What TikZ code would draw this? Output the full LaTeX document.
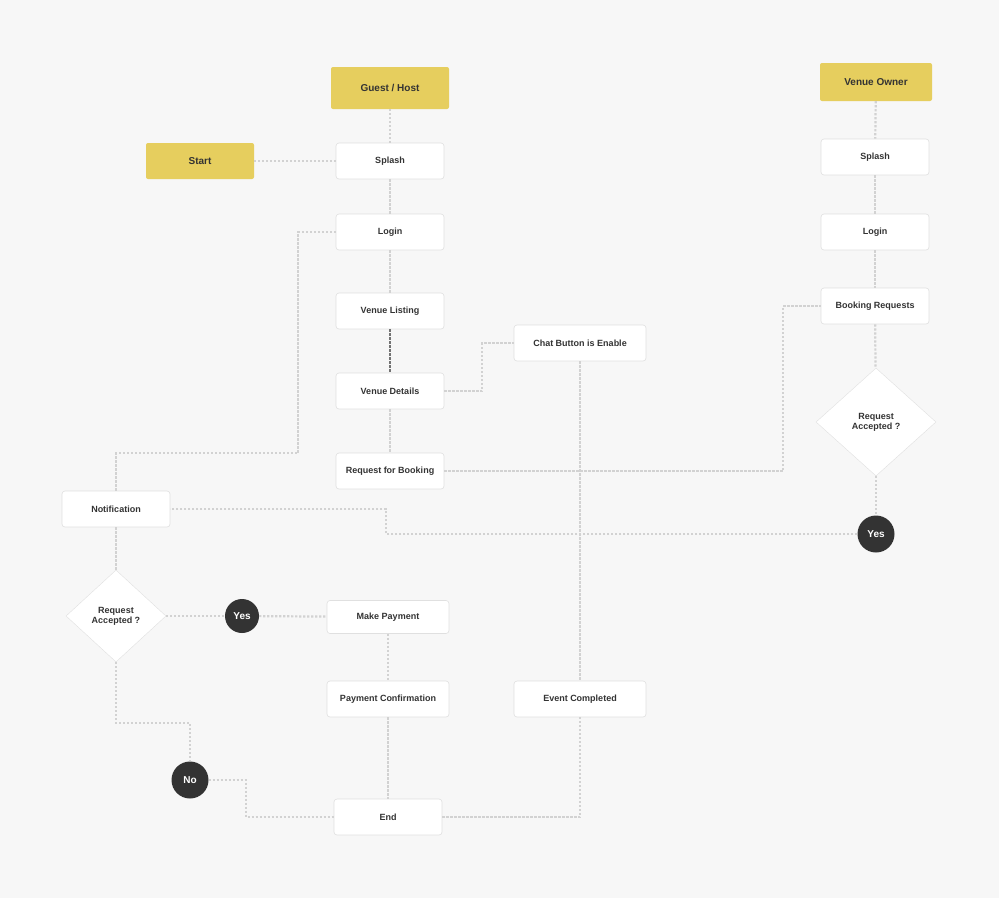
\documentclass[tikz,border=0pt]{standalone}
\usepackage{fontspec}
\setmainfont{Liberation Sans}
\usetikzlibrary{shapes.geometric}
\definecolor{bg}{HTML}{F7F7F7}
\definecolor{yel}{HTML}{E6CE5E}
\definecolor{ln}{HTML}{D2D2D2}
\definecolor{dk}{HTML}{333333}
\tikzset{
 box/.style={draw=black!12,fill=white,rounded corners=3pt,minimum width=108pt,minimum height=36pt,font=\bfseries\fontsize{9}{11}\selectfont,text=dk,line width=0.6pt},
 ybox/.style={fill=yel,rounded corners=2pt,minimum width=108pt,minimum height=36pt,font=\bfseries\fontsize{10}{12}\selectfont,text=dk},
 dia/.style={diamond,draw=black!12,fill=white,aspect=1.1,font=\bfseries\fontsize{9}{10}\selectfont,text=dk,align=center,inner sep=0pt},
 circ/.style={circle,fill=dk,minimum size=37pt,inner sep=0pt,text=white,font=\bfseries\fontsize{10}{12}\selectfont},
 con/.style={draw=ln,line width=2.2pt,dash pattern=on 2.2pt off 1.8pt},
 dcon/.style={draw=black!55,line width=2.2pt,dash pattern=on 2.2pt off 1.8pt}
}
\begin{document}
\begin{tikzpicture}[x=1pt,y=-1pt]
\fill[bg] (0,0) rectangle (999,898);
\useasboundingbox (0,0) rectangle (999,898);
\node[ybox,minimum width=118pt,minimum height=42pt] (gh) at (390,88) {Guest / Host};
\node[ybox] (start) at (200,161) {Start};
\node[box] (sp) at (390,161) {Splash};
\node[box] (lg) at (390,232) {Login};
\node[box] (vl) at (390,311) {Venue Listing};
\node[box] (vd) at (390,391) {Venue Details};
\node[box] (rb) at (390,471) {Request for Booking};
\node[box,minimum width=132pt] (chat) at (580,343) {Chat Button is Enable};
\node[ybox,minimum width=112pt,minimum height=38pt] (vo) at (876,82) {Venue Owner};
\node[box] (sp2) at (875,157) {Splash};
\node[box] (lg2) at (875,232) {Login};
\node[box] (br) at (875,306) {Booking Requests};
\node[dia,minimum width=120pt,minimum height=108pt] (d2) at (876,422) {Request\\Accepted ?};
\node[circ] (y2) at (876,534) {Yes};
\node[box] (nt) at (116,509) {Notification};
\node[dia,minimum width=100pt,minimum height=92pt] (d1) at (116,616) {Request\\Accepted ?};
\node[circ,minimum size=34pt] (y1) at (242,616) {Yes};
\node[box,minimum width=122pt,minimum height=33pt] (mp) at (388,617) {Make Payment};
\node[box,minimum width=122pt] (pc) at (388,699) {Payment Confirmation};
\node[box,minimum width=132pt] (ec) at (580,699) {Event Completed};
\node[circ] (no) at (190,780) {No};
\node[box] (end) at (388,817) {End};
\begin{scope}[on background layer/.style={}]
\end{scope}
\path[con] (gh) -- (sp);
\path[con] (start) -- (sp);
\path[con] (sp) -- (lg);
\path[con] (lg) -- (vl);
\path[dcon] (vl) -- (vd);
\path[con] (vd) -- (rb);
\path[con] (lg.west) -- (298,232) -- (298,453) -- (116,453) -- (nt.north);
\path[con] (vd.east) -- (482,391) -- (482,343) -- (chat.west);
\path[con] (chat) -- (ec);
\path[con] (rb.east) -- (783,471) -- (783,306) -- (br.west);
\path[con] (vo) -- (sp2);
\path[con] (sp2) -- (lg2);
\path[con] (lg2) -- (br);
\path[con] (br) -- (d2);
\path[con] (d2) -- (y2);
\path[con] (y2.west) -- (386,534) -- (386,509) -- (nt.east);
\path[con] (nt) -- (d1);
\path[con] (d1) -- (y1);
\path[con] (y1) -- (mp);
\path[con] (mp) -- (pc);
\path[con] (pc) -- (end);
\path[con] (d1.south) -- (116,723) -- (190,723) -- (no.north);
\path[con] (no.east) -- (246,780) -- (246,817) -- (end.west);
\path[con] (end.east) -- (580,817) -- (ec.south);
\end{tikzpicture}
\end{document}
